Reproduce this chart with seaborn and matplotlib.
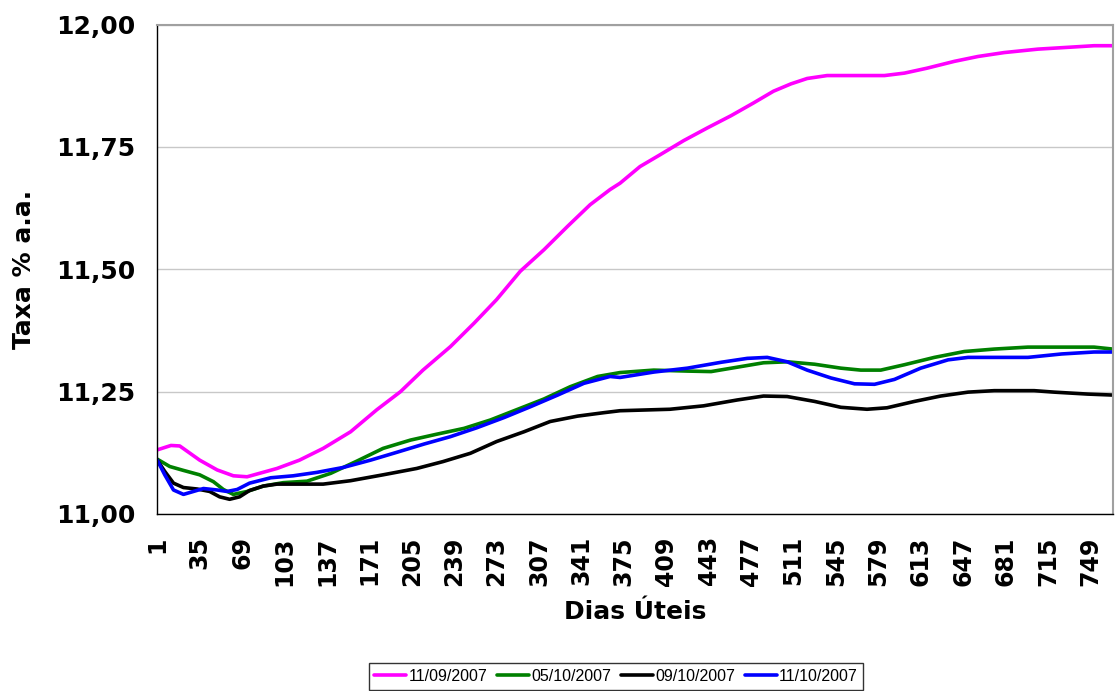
import numpy as np
import pandas as pd
import matplotlib
matplotlib.use("Agg")
import matplotlib.pyplot as plt
from matplotlib.ticker import FuncFormatter
from matplotlib.lines import Line2D
import seaborn as sns

# ---- data ----
series_names = ["11/09/2007", "05/10/2007", "09/10/2007", "11/10/2007"]
series_colors = ["#FF00FF", "#008000", "#000000", "#0000FF"]

mag_days = [1, 12, 19, 35, 49, 62, 73, 97, 115, 134, 156, 177, 196, 214, 236, 255, 273,
            292, 311, 330, 348, 364, 372, 388, 404, 423, 442, 461, 479, 495, 509, 522,
            538, 560, 584, 600, 618, 640, 659, 680, 707, 733, 752, 767]
mag_vals = [11.131, 11.140, 11.139, 11.110, 11.090, 11.078, 11.076, 11.093, 11.110, 11.134,
            11.168, 11.213, 11.250, 11.294, 11.342, 11.390, 11.438, 11.496, 11.540, 11.588,
            11.632, 11.663, 11.676, 11.710, 11.734, 11.763, 11.789, 11.814, 11.840, 11.864,
            11.879, 11.890, 11.896, 11.896, 11.896, 11.901, 11.911, 11.925, 11.935, 11.943,
            11.950, 11.954, 11.957, 11.957]

grn_days = [1, 11, 22, 35, 46, 54, 62, 73, 86, 102, 121, 140, 161, 182, 204, 225, 247, 268,
            289, 311, 332, 354, 372, 399, 426, 445, 466, 487, 506, 528, 549, 565, 581, 600,
            624, 648, 672, 699, 726, 752, 767]
grn_vals = [11.112, 11.097, 11.089, 11.080, 11.066, 11.050, 11.040, 11.046, 11.057, 11.064,
            11.067, 11.083, 11.108, 11.134, 11.151, 11.163, 11.175, 11.192, 11.213, 11.235,
            11.260, 11.281, 11.289, 11.294, 11.292, 11.291, 11.300, 11.309, 11.311, 11.306,
            11.298, 11.294, 11.294, 11.305, 11.320, 11.332, 11.337, 11.341, 11.341, 11.341,
            11.337]

blk_days = [1, 7, 14, 22, 33, 43, 51, 59, 67, 75, 86, 97, 115, 134, 156, 182, 209, 230,
            252, 273, 295, 316, 338, 359, 372, 412, 439, 466, 487, 506, 528, 549, 570, 586,
            608, 629, 651, 672, 704, 720, 747, 767]
blk_vals = [11.110, 11.087, 11.063, 11.054, 11.051, 11.046, 11.035, 11.030, 11.035, 11.048,
            11.057, 11.061, 11.061, 11.061, 11.068, 11.080, 11.093, 11.107, 11.124, 11.148,
            11.168, 11.189, 11.200, 11.207, 11.211, 11.214, 11.221, 11.233, 11.241, 11.240,
            11.230, 11.218, 11.214, 11.217, 11.230, 11.241, 11.249, 11.252, 11.252, 11.249,
            11.245, 11.243]

blu_days = [1, 7, 14, 22, 30, 38, 49, 57, 65, 75, 92, 110, 129, 150, 172, 193, 215, 236,
            257, 279, 300, 322, 343, 364, 372, 399, 426, 453, 474, 490, 506, 522, 541, 560,
            576, 592, 613, 635, 651, 672, 699, 726, 752, 767]
blu_vals = [11.110, 11.080, 11.049, 11.040, 11.046, 11.052, 11.049, 11.046, 11.050, 11.063,
            11.074, 11.078, 11.085, 11.095, 11.110, 11.126, 11.143, 11.158, 11.176, 11.197,
            11.219, 11.243, 11.267, 11.281, 11.279, 11.290, 11.298, 11.310, 11.318, 11.320,
            11.311, 11.294, 11.278, 11.266, 11.265, 11.275, 11.298, 11.315, 11.320, 11.320,
            11.320, 11.327, 11.331, 11.331]

x_ticks = list(range(1, 750, 34))
y_ticks = [11.00, 11.25, 11.50, 11.75, 12.00]

frames = []
for name, d, v in zip(series_names,
                      [mag_days, grn_days, blk_days, blu_days],
                      [mag_vals, grn_vals, blk_vals, blu_vals]):
    frames.append(pd.DataFrame({"Dia": d, "Taxa": v, "Serie": name}))
df = pd.concat(frames, ignore_index=True)

# ---- styling ----
sns.set_style("white")
plt.rcParams["font.family"] = ["DejaVu Sans"]
plt.rcParams["text.color"] = "black"
plt.rcParams["axes.labelcolor"] = "black"
plt.rcParams["xtick.color"] = "black"
plt.rcParams["ytick.color"] = "black"

fig = plt.figure(figsize=(11.17, 6.91), dpi=100)
ax = fig.add_axes([0.1408, 0.2562, 0.8554, 0.7081])

sns.lineplot(data=df, x="Dia", y="Taxa", hue="Serie", hue_order=series_names,
             palette=series_colors, linewidth=2.6, ax=ax, legend=False,
             estimator=None, sort=True)

ax.set_xlim(1, 767)
ax.set_ylim(11.0, 12.0)
ax.set_xticks(x_ticks)
ax.set_xticklabels([str(t) for t in x_ticks], rotation=90, fontsize=17,
                   fontweight="bold", color="black")
ax.set_yticks(y_ticks)
ax.yaxis.set_major_formatter(FuncFormatter(lambda v, p: f"{v:.2f}".replace(".", ",")))
for lab in ax.get_yticklabels():
    lab.set_fontsize(18)
    lab.set_fontweight("bold")
    lab.set_color("black")
ax.tick_params(axis="y", direction="out", length=4, width=1, color="black",
               labelcolor="black", pad=12)
ax.tick_params(axis="x", direction="out", length=4, width=1, color="black",
               labelcolor="black", pad=12)
ax.yaxis.grid(True, color="#c8c8c8", linewidth=1)
ax.xaxis.grid(False)

for s in ["left", "bottom"]:
    ax.spines[s].set_color("black")
    ax.spines[s].set_linewidth(1)
for s in ["top", "right"]:
    ax.spines[s].set_color("#a0a0a0")
    ax.spines[s].set_linewidth(1.5)

ax.set_xlabel("Dias Úteis", fontsize=18, fontweight="bold", labelpad=10, color="black")
ax.set_ylabel("Taxa % a.a.", fontsize=18, fontweight="bold", labelpad=14, color="black")

handles = [Line2D([0], [0], color=c, lw=2.6) for c in series_colors]
leg = fig.legend(handles, series_names, loc="lower center", bbox_to_anchor=(0.5515, 0.002),
                 ncol=4, frameon=True, fancybox=False, edgecolor="black",
                 prop={"family": "Liberation Sans", "size": 11.5},
                 handlelength=2.0, handletextpad=0.15, columnspacing=0.6,
                 borderpad=0.35, borderaxespad=0)
leg.get_frame().set_linewidth(1)
for t in leg.get_texts():
    t.set_color("black")

fig.savefig("out.png", dpi=100)
